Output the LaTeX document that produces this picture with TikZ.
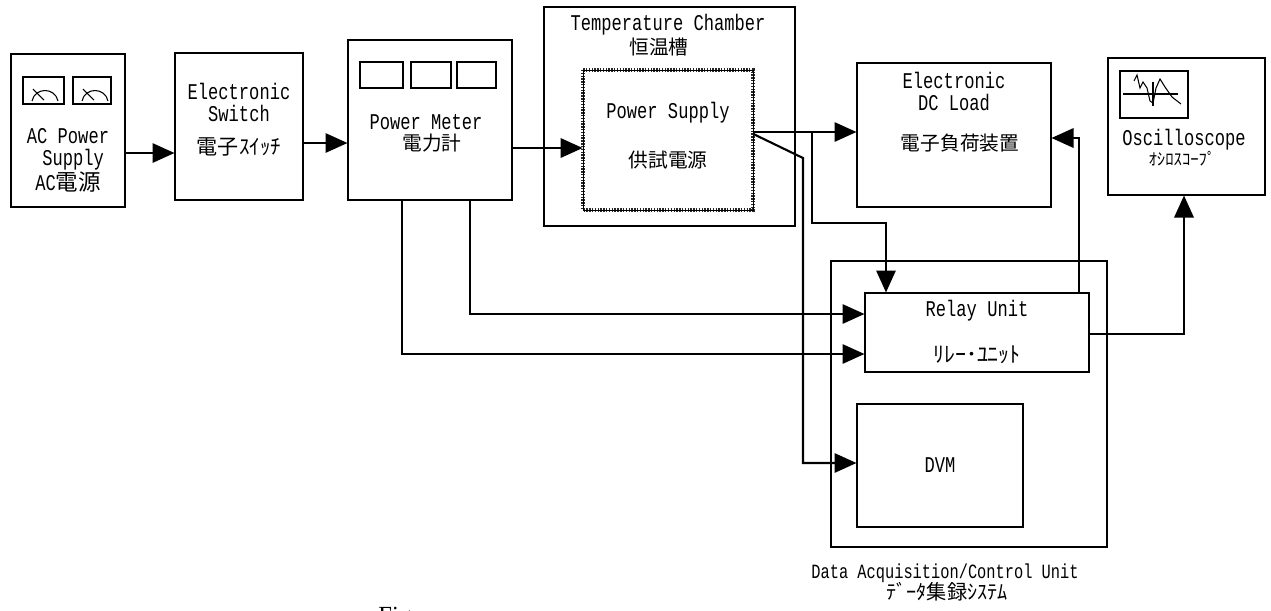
\documentclass[tikz,border=0pt]{standalone}
\usepackage{fontspec}
\setmainfont[FakeStretch=0.76]{Liberation Mono}
\newfontfamily\jp{Noto Sans CJK JP}
\newfontfamily\figfont{Liberation Serif}
\usetikzlibrary{arrows.meta,fit}
\begin{document}
\begin{tikzpicture}[x=0.02cm,y=-0.02cm,
 box/.style={draw, line width=0.6pt, inner sep=0pt},
 lbl/.style={inner sep=0pt, align=center, font=\fontsize{12.8pt}{12.6pt}\selectfont},
 jlbl/.style={inner sep=0pt, font=\fontsize{11.2pt}{13pt}\jp},
 conn/.style={line width=1.2pt, -{Triangle[length=12.5pt,width=11pt]}},
 wire/.style={line width=0.6pt}]
\fill[white] (0,0) rectangle (1271,610);
\useasboundingbox (0,0) rectangle (1271,610);

% boxes
\node (ac) [box, fit={(11,54) (125,207)}] {};
\node (m1) [box, fit={(23,77) (64,104)}] {};
\node (m2) [box, fit={(73,77) (111,104)}] {};
\node (sw) [box, fit={(175,53) (303,200)}] {};
\node (pm) [box, fit={(348,40) (512,200)}] {};
\node (s1) [box, fit={(360,62) (403,88)}] {};
\node (s2) [box, fit={(411,62) (451,88)}] {};
\node (s3) [box, fit={(457,62) (496,88)}] {};
\node (tc) [box, fit={(544,7) (795,226)}] {};
\node (ps) [inner sep=0pt, fit={(583,70) (753,210)}] {};
\draw[line width=2pt, black!85, dash pattern=on 0.8pt off 0.8pt] (583,70) rectangle (753,210);
\draw[line width=0.3pt] (583,70) rectangle (753,210);
\node (dc) [box, fit={(857,63) (1051,207)}] {};
\node (osc) [box, fit={(1108,58) (1265,195)}] {};
\node (scr) [box, fit={(1120,71) (1188,118)}] {};
\node (daq) [box, fit={(831,261) (1107,547)}] {};
\node (ru) [box, fit={(865,293) (1089,372)}] {};
\node (dvm) [box, fit={(857,404) (1023,527)}] {};

% meter faces
\foreach \o in {0,50}{
  \draw[wire] (32+\o,101) .. controls (35+\o,87) and (55+\o,87) .. (58+\o,101);
  \draw[wire] (33+\o,89) -- (44+\o,100);
}
% oscilloscope trace
\draw[wire] (1123,94) -- (1178,94);
\draw[wire] (1153,82) -- (1153,106);
\draw[wire] (1134,81) -- (1137,75) -- (1140,88) -- (1143,82) -- (1147,88) -- (1150,101) -- (1153,103) -- (1156,88) -- (1160,79) -- (1165,87) -- (1172,97) -- (1181,104);

% labels
\node (t1) [lbl, anchor=north] at (68,128) {AC Power\\\ Supply\\AC{\jp 電源}};
\node (t4) [lbl, anchor=north] at (239,83) {Electronic\\Switch};
\node (t6) [jlbl, font=\fontsize{12pt}{13pt}\jp] at (239,147) {電子ｽｲｯﾁ};
\node (t7) [lbl] at (426,122) {Power Meter};
\node (t8) [jlbl] at (432,143) {電力計};
\node (t9) [lbl] at (668,25) {Temperature Chamber};
\node (t10) [jlbl] at (659,47) {恒温槽};
\node (t11) [lbl] at (668,113) {Power Supply};
\node (t12) [jlbl] at (668,160) {供試電源};
\node (t13) [lbl, anchor=north] at (954,72) {Electronic\\DC Load};
\node (t15) [jlbl] at (960,143) {電子負荷装置};
\node (t16) [lbl] at (1184,140) {Oscilloscope};
\node (t17) [jlbl, font=\fontsize{9.5pt}{11pt}\jp] at (1182,159) {ｵｼﾛｽｺｰﾌﾟ};
\node (t18) [lbl] at (977,311) {Relay Unit};
\node (t19) [jlbl, font=\fontsize{12.5pt}{13pt}\jp] at (977,355) {ﾘﾚｰ･ﾕﾆｯﾄ};
\node (t20) [lbl] at (940,465) {DVM};
\node (t21) [lbl, font=\fontsize{11.5pt}{13pt}\selectfont] at (945,573) {Data Acquisition/Control Unit};
\node (t22) [jlbl, font=\fontsize{11.5pt}{13pt}\jp] at (947,592) {ﾃﾞｰﾀ集録ｼｽﾃﾑ};
\node (t23) [inner sep=0pt, anchor=north west, font=\fontsize{14pt}{16pt}\figfont] at (378,607) {Figure};

% connectors
\draw[conn] (ac.east |- 0,153) -- (sw.west |- 0,153);
\draw[conn] (sw.east |- 0,143) -- (pm.west |- 0,143);
\draw[conn] (pm.east |- 0,148) -- (ps.west |- 0,148);
\draw[conn] (ps.east |- 0,132) -- (dc.west |- 0,132);
\coordinate (br) at (812,132);
\draw[conn] (br) |- (886,223) -- (ru.north -| 886,0);
\draw[conn] (ps.east |- 0,134) -- (803,158) -- (803,463) -- (dvm.west |- 0,463);
\draw[conn] (pm.south -| 470,0) |- (ru.west |- 0,314);
\draw[conn] (pm.south -| 402,0) |- (ru.west |- 0,354);
\draw[conn] (ru.north -| 1079,0) |- (dc.east |- 0,138);
\draw[conn] (ru.east |- 0,334) -| (osc.south -| 1184,0);
\end{tikzpicture}
\end{document}
